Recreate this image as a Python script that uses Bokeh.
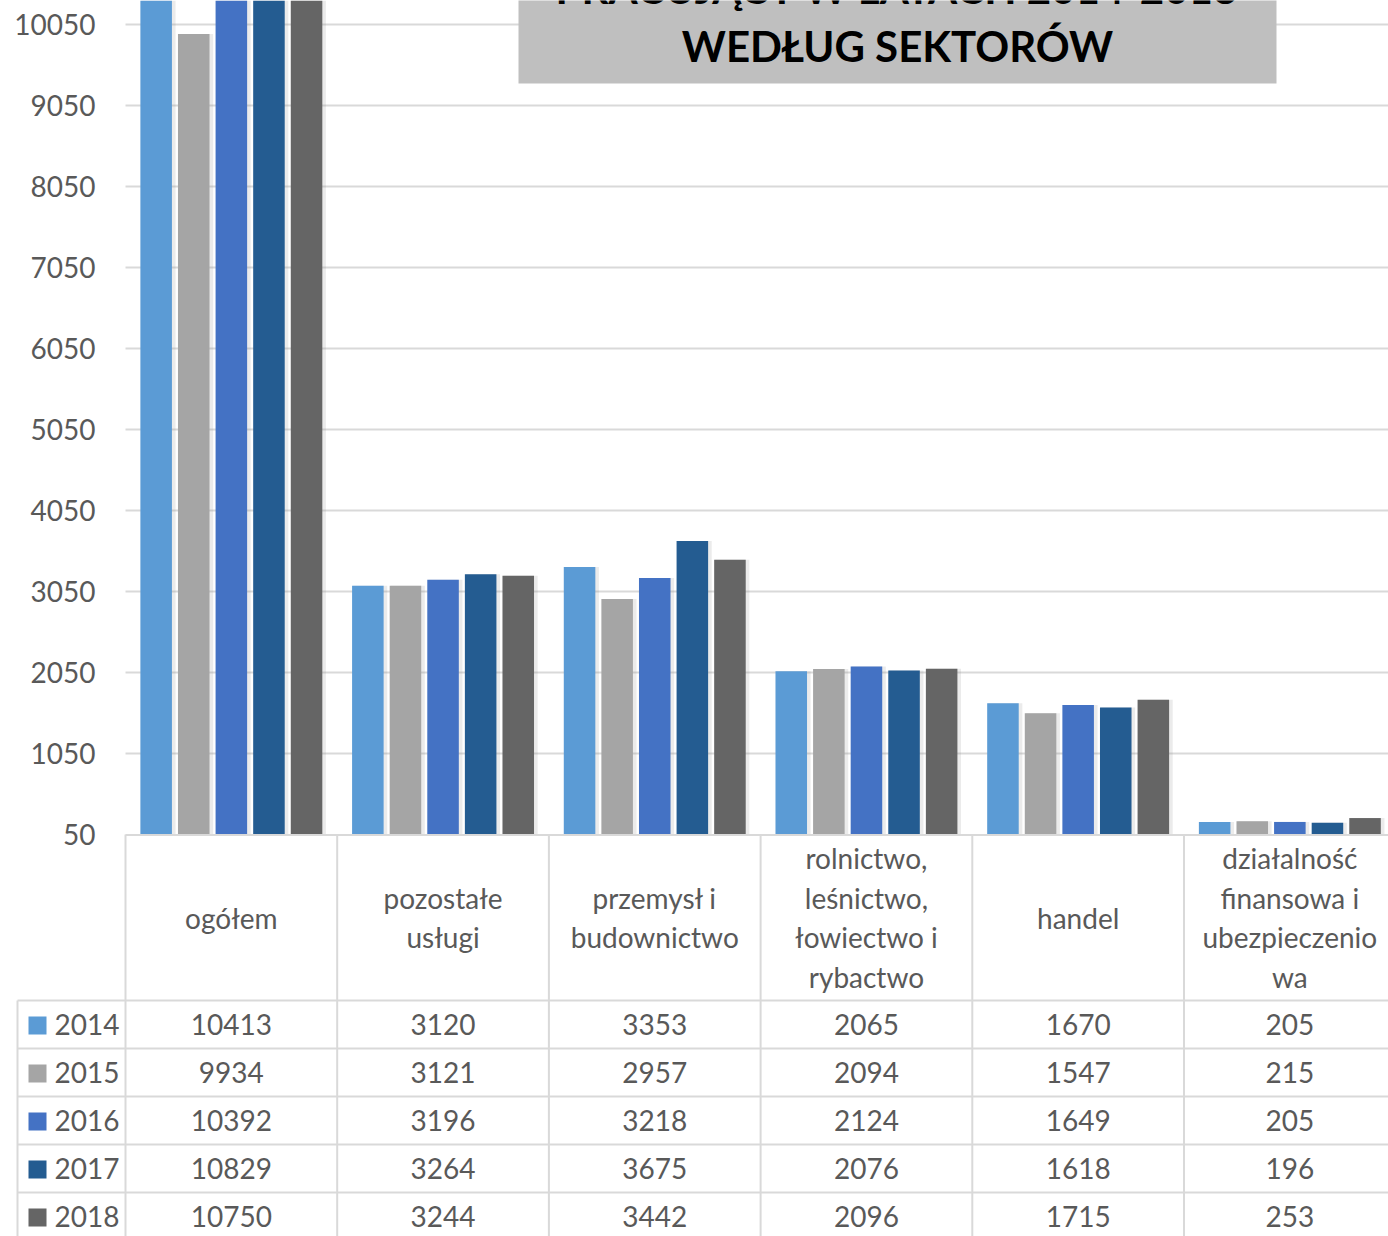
from bokeh.plotting import figure
from bokeh.models import Range1d, ColumnDataSource
from bokeh.core.properties import value
from bokeh.transform import dodge
from bokeh.embed import file_html
from bokeh.resources import INLINE

# ---------------- data ----------------
categories = ["ogółem", "pozostałe usługi", "przemysł i budownictwo",
              "rolnictwo, leśnictwo, łowiectwo i rybactwo", "handel",
              "działalność finansowa i ubezpieczeniowa"]
category_labels = ["ogółem", "pozostałe\nusługi", "przemysł i\nbudownictwo",
                   "rolnictwo,\nleśnictwo,\nłowiectwo i\nrybactwo", "handel",
                   "działalność\nfinansowa i\nubezpieczenio\nwa"]
years = ["2014", "2015", "2016", "2017", "2018"]
v2014 = [10413, 3120, 3353, 2065, 1670, 205]
v2015 = [9934, 3121, 2957, 2094, 1547, 215]
v2016 = [10392, 3196, 3218, 2124, 1649, 205]
v2017 = [10829, 3264, 3675, 2076, 1618, 196]
v2018 = [10750, 3244, 3442, 2096, 1715, 253]
series = [v2014, v2015, v2016, v2017, v2018]
y_ticks = [50, 1050, 2050, 3050, 4050, 5050, 6050, 7050, 8050, 9050, 10050]
title_lines = ["PRACUJĄCY W LATACH 2014-2018", "WEDŁUG SEKTORÓW"]

colors = ["#5B9BD5", "#A5A5A5", "#4472C4", "#245C91", "#656565"]
TXT = "#595959"
GRID = "#D9D9D9"
FONT = "Lato"

# ---------------- layout constants ----------------
W, H = 1388, 1236
CW = 211.7        # px per category column
X0 = 125          # px where the first category column starts
BASE = 834        # px of the value-axis minimum (50)
PXU = 0.081       # px per value unit
n = len(categories)
xc = [i + 0.5 for i in range(n)]


def xpx(px):
    return (px - X0) / CW


y_min = y_ticks[0]
p = figure(width=W, height=H, output_backend="svg", toolbar_location=None,
           x_range=Range1d(xpx(0), xpx(W)),
           y_range=Range1d(y_min - (H - BASE) / PXU, y_min + BASE / PXU),
           x_axis_location=None, y_axis_location=None,
           min_border=0, min_border_left=0, min_border_right=0,
           min_border_top=0, min_border_bottom=0)
# table scale: pixels below the baseline, growing downwards, over the whole frame
p.extra_y_ranges = {"table": Range1d(H - BASE, -BASE)}
p.outline_line_color = None
p.grid.visible = False

xr = xpx(W) + 0.1

# ---- gridlines & y tick labels (value scale) ----
gt = y_ticks[1:]
p.segment(x0=[0] * len(gt), y0=gt, x1=[xr] * len(gt), y1=gt,
          line_color=GRID, line_width=2)
p.text(x=[xpx(95)] * len(y_ticks), y=y_ticks, text=[str(t) for t in y_ticks],
       text_align="right", text_baseline="middle", text_font=value(FONT),
       text_font_size="28px", text_color=TXT)

# ---- bars ----
src = ColumnDataSource(dict(x=xc, **{y: s for y, s in zip(years, series)}))
step = 0.1776
bw = 0.149
for k, y in enumerate(years):
    off = (k - 2) * step
    p.vbar(x=dodge("x", off + 0.011, range=p.x_range), bottom=y_min, top=y,
           width=bw + 0.012, source=src, fill_color="#808080", fill_alpha=0.16,
           line_color=None)
    p.vbar(x=dodge("x", off, range=p.x_range), bottom=y_min, top=y, width=bw,
           source=src, fill_color=colors[k], line_color=None)

# ---- title box ----
p.quad(left=[xpx(518)], right=[xpx(1276)],
       bottom=[y_min + (BASE - 83) / PXU], top=[y_min + (BASE + 50) / PXU],
       fill_color="#BFBFBF", line_color=None)
tx = xpx(897)
p.text(x=[tx, tx], y=[y_min + (BASE + 13) / PXU, y_min + (BASE - 45) / PXU],
       text=title_lines, text_align="center", text_baseline="middle",
       text_font=value(FONT), text_font_style="bold", text_font_size="42px",
       text_color="black")

# ---- data table (px scale below the baseline) ----
xl = xpx(17)
row_top = 1000 - BASE
row_h = 48
TH = H - BASE
p.segment(x0=list(range(n)), y0=[0] * n, x1=list(range(n)), y1=[TH + 10] * n,
          line_color=GRID, line_width=2, y_range_name="table")
p.segment(x0=[xl], y0=[row_top], x1=[xl], y1=[TH + 10], line_color=GRID,
          line_width=2, y_range_name="table")
hy = [row_top + row_h * k for k in range(len(years))]
p.segment(x0=[xl] * len(hy), y0=hy, x1=[xr] * len(hy), y1=hy, line_color=GRID,
          line_width=2, y_range_name="table")
p.segment(x0=[0], y0=[0.5], x1=[xr], y1=[0.5], line_color=GRID, line_width=2,
          y_range_name="table")

p.text(x=xc, y=[(917 - BASE)] * n, text=category_labels, text_align="center",
       text_baseline="middle", text_font=value(FONT), text_font_size="28px",
       text_color=TXT, text_line_height=1.16, y_range_name="table")

for k, y in enumerate(years):
    cy = row_top + row_h * k + 24
    p.rect(x=[xpx(37)], y=[cy + 1], width=18, height=18,
           width_units="screen", height_units="screen",
           fill_color=colors[k], line_color=None, y_range_name="table")
    p.text(x=[xpx(54)], y=[cy], text=[y], text_align="left",
           text_baseline="middle", text_font=value(FONT), text_font_size="28px",
           text_color=TXT, y_range_name="table")
    p.text(x=xc, y=[cy] * n, text=[str(v) for v in series[k]], text_align="center",
           text_baseline="middle", text_font=value(FONT), text_font_size="28px",
           text_color=TXT, y_range_name="table")

open("out.html", "w").write(file_html(p, INLINE))
